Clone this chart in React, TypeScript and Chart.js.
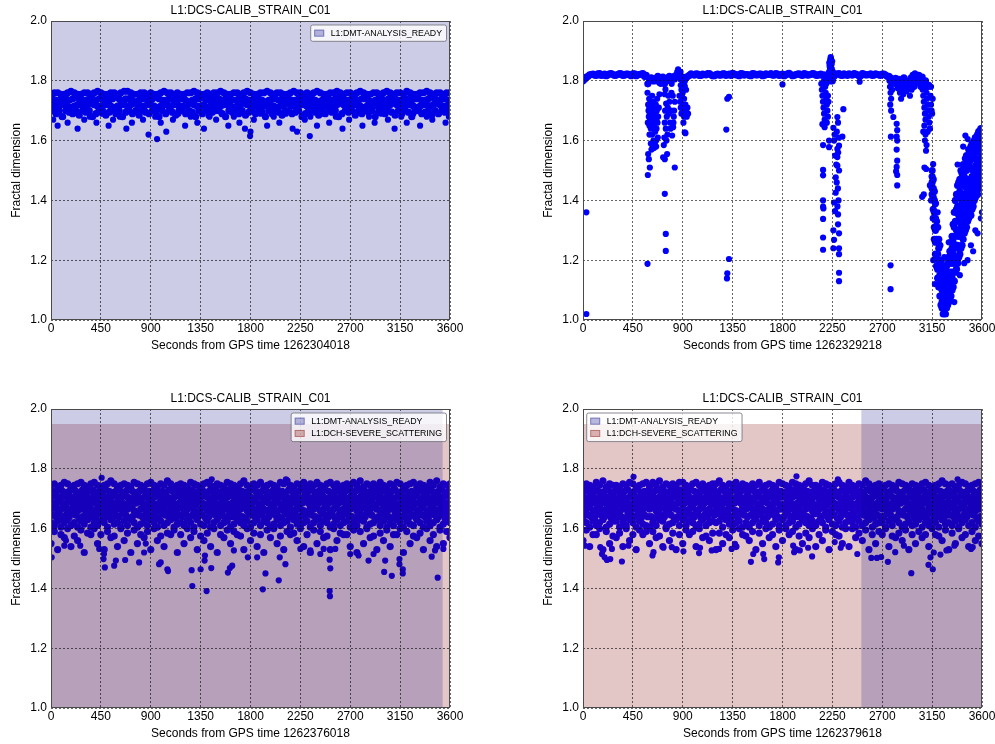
import React, { useEffect, useRef } from "react";
import { Chart, registerables } from "chart.js";

Chart.register(...registerables);

const FONT = "'Liberation Sans', Arial, Helvetica, sans-serif";
Chart.defaults.font.family = FONT;
Chart.defaults.color = "#000";

// ---------- axis ticks ----------
const X_TICKS = [0, 450, 900, 1350, 1800, 2250, 2700, 3150, 3600];
const Y_TICKS = [1.0, 1.2, 1.4, 1.6, 1.8, 2.0];
const CHANNEL = "L1:DCS-CALIB_STRAIN_C01";
const Y_LABEL = "Fractal dimension";
const GPS_STARTS = ["1262304018", "1262329218", "1262376018", "1262379618"];

// ---------- segment labels & spans (seconds) ----------
const DMT_LABEL = "L1:DMT-ANALYSIS_READY";
const DCH_LABEL = "L1:DCH-SEVERE_SCATTERING";
const TL_DMT_SPAN = [0, 3600];
const BL_DMT_SPAN = [0, 3535];
const BL_DCH_SPAN = [0, 3600];
const BR_DMT_SPAN = [2510, 3600];
const BR_DCH_SPAN = [0, 3600];
const DMT_TOP = 2.0;
const DCH_TOP = 1.95;

// ---------- panel 1 (top-left), rows sampled every 30 s ----------
const TL_R1 = [
  1.755,1.76,1.76,1.755,1.755,1.76,1.765,1.76,1.755,1.755,
  1.76,1.76,1.755,1.76,1.765,1.76,1.755,1.755,1.76,1.76,
  1.755,1.76,1.765,1.765,1.76,1.755,1.755,1.76,1.76,1.755,
  1.76,1.755,1.755,1.76,1.765,1.76,1.76,1.755,1.76,1.755,
  1.755,1.76,1.76,1.765,1.76,1.755,1.755,1.76,1.755,1.76,
  1.76,1.765,1.76,1.755,1.755,1.76,1.76,1.755,1.76,1.765,
  1.76,1.755,1.755,1.76,1.76,1.765,1.76,1.755,1.76,1.76,
  1.755,1.755,1.76,1.765,1.76,1.76,1.755,1.76,1.755,1.76,
  1.765,1.76,1.755,1.755,1.76,1.76,1.765,1.76,1.755,1.76,
  1.76,1.755,1.76,1.765,1.76,1.755,1.755,1.76,1.76,1.755,
  1.76,1.765,1.76,1.755,1.76,1.76,1.755,1.765,1.76,1.755,
  1.755,1.76,1.76,1.765,1.76,1.755,1.76,1.76,1.755,1.76,
  1.76];
const TL_R2 = [
  1.74,1.735,1.735,1.74,1.74,1.735,1.74,1.745,1.74,1.735,
  1.735,1.74,1.74,1.735,1.74,1.74,1.735,1.735,1.74,1.745,
  1.74,1.735,1.74,1.74,1.735,1.73,1.735,1.74,1.74,1.735,
  1.74,1.745,1.74,1.735,1.735,1.74,1.74,1.735,1.74,1.74,
  1.735,1.73,1.735,1.74,1.74,1.745,1.74,1.735,1.735,1.74,
  1.74,1.735,1.74,1.74,1.735,1.735,1.74,1.745,1.74,1.735,
  1.735,1.74,1.74,1.735,1.73,1.735,1.74,1.74,1.735,1.74,
  1.745,1.74,1.735,1.735,1.74,1.74,1.735,1.74,1.74,1.735,
  1.73,1.735,1.74,1.74,1.735,1.74,1.745,1.74,1.735,1.735,
  1.74,1.74,1.735,1.74,1.74,1.735,1.73,1.735,1.74,1.74,
  1.735,1.74,1.745,1.74,1.735,1.735,1.74,1.74,1.735,1.74,
  1.74,1.735,1.735,1.74,1.745,1.74,1.735,1.74,1.74,1.735,
  1.74];
const TL_R3 = [
  1.72,1.715,1.715,1.72,1.72,1.715,1.71,1.715,1.72,1.72,
  1.715,1.72,1.725,1.72,1.715,1.715,1.72,1.72,1.715,1.71,
  1.715,1.72,1.72,1.715,1.72,1.725,1.72,1.715,1.715,1.72,
  1.72,1.715,1.71,1.715,1.72,1.72,1.715,1.72,1.72,1.715,
  1.715,1.72,1.725,1.72,1.715,1.715,1.72,1.71,1.715,1.72,
  1.72,1.715,1.72,1.72,1.715,1.71,1.715,1.72,1.725,1.72,
  1.715,1.715,1.72,1.72,1.715,1.72,1.72,1.715,1.71,1.715,
  1.72,1.725,1.72,1.715,1.715,1.72,1.72,1.715,1.72,1.72,
  1.715,1.71,1.715,1.72,1.72,1.715,1.72,1.725,1.72,1.715,
  1.715,1.72,1.72,1.715,1.71,1.715,1.72,1.72,1.715,1.72,
  1.72,1.715,1.72,1.725,1.72,1.715,1.715,1.72,1.72,1.715,
  1.71,1.715,1.72,1.72,1.715,1.72,1.725,1.72,1.715,1.715,
  1.72];
const TL_R4 = [
  1.70,1.69,1.70,1.68,1.70,1.695,1.69,1.70,1.685,1.70,
  1.695,1.70,1.68,1.69,1.70,1.70,1.685,1.695,1.70,1.69,
  1.70,1.68,1.695,1.70,1.69,1.70,1.685,1.70,1.695,1.69,
  1.70,1.695,1.68,1.70,1.69,1.70,1.695,1.685,1.70,1.70,
  1.69,1.70,1.695,1.68,1.70,1.69,1.70,1.685,1.695,1.70,
  1.70,1.69,1.68,1.70,1.695,1.70,1.69,1.70,1.685,1.695,
  1.70,1.69,1.70,1.695,1.68,1.70,1.69,1.70,1.695,1.685,
  1.70,1.70,1.69,1.695,1.70,1.68,1.69,1.70,1.70,1.695,
  1.685,1.70,1.69,1.70,1.695,1.70,1.68,1.69,1.70,1.695,
  1.70,1.685,1.70,1.69,1.70,1.695,1.70,1.68,1.695,1.70,
  1.69,1.70,1.695,1.685,1.70,1.69,1.70,1.695,1.68,1.70,
  1.70,1.69,1.695,1.70,1.685,1.70,1.69,1.70,1.695,1.70,
  1.69];
const TL_LOW = [
  [20,1.67],[60,1.65],[95,1.68],[150,1.66],[200,1.69],[240,1.64],[300,1.67],[350,1.68],[410,1.66],[460,1.69],
  [520,1.65],[560,1.67],[620,1.68],[680,1.64],[730,1.66],[790,1.69],[830,1.67],[880,1.62],[940,1.68],[957,1.605],
  [990,1.66],[1040,1.63],[1100,1.67],[1150,1.69],[1210,1.65],[1260,1.68],[1320,1.66],[1380,1.64],[1430,1.68],[1490,1.67],
  [1540,1.69],[1600,1.65],[1650,1.68],[1700,1.66],[1750,1.64],[1796,1.615],[1800,1.63],[1830,1.67],[1890,1.69],[1950,1.65],
  [2010,1.68],[2060,1.66],[2120,1.69],[2180,1.64],[2220,1.63],[2290,1.67],[2335,1.615],[2340,1.68],[2400,1.65],[2450,1.69],
  [2510,1.66],[2570,1.68],[2630,1.64],[2690,1.67],[2750,1.69],[2810,1.65],[2870,1.68],[2920,1.66],[2980,1.69],[3040,1.67],
  [3100,1.64],[3160,1.68],[3210,1.66],[3270,1.69],[3330,1.65],[3390,1.68],[3440,1.67],[3500,1.69],[3560,1.66],[3590,1.68]];

// ---------- panel 2 (top-right) ----------
// baseline every 30 s from 0 s, and from 15 s
const TR_BASE = [
  1.800,1.812,1.820,1.822,1.818,1.824,1.820,1.817,1.823,1.821,
  1.819,1.824,1.818,1.822,1.820,1.823,1.817,1.821,1.824,1.818,
  1.805,1.800,1.808,1.795,1.812,1.803,1.815,1.808,1.818,1.825,
  1.812,1.810,1.818,1.821,1.823,1.818,1.822,1.820,1.824,1.817,
  1.821,1.819,1.823,1.818,1.822,1.825,1.820,1.817,1.823,1.821,
  1.818,1.824,1.820,1.822,1.817,1.823,1.821,1.819,1.824,1.818,
  1.822,1.820,1.825,1.817,1.821,1.823,1.818,1.822,1.820,1.824,
  1.819,1.821,1.818,1.815,1.810,1.800,1.822,1.824,1.818,1.821,
  1.823,1.819,1.822,1.817,1.824,1.820,1.821,1.818,1.823,1.820,
  1.822,1.819,1.815,1.800,1.790,1.805,1.785,1.800,1.778,1.812,
  1.815,1.818,1.812,1.800,1.785];
const TR_BASE2 = [
  1.805,1.815,
  1.821,1.819,1.823,1.818,1.822,1.820,1.824,1.818,1.821,1.823,1.819,1.822,1.817,1.823,1.820,1.822,
  1.815,1.790,1.810,1.800,1.815,1.800,1.790,1.810,1.800,1.815,1.830,1.805,1.800,1.815,
  1.823,1.819,1.822,1.818,1.821,1.824,1.820,1.817,1.822,1.819,
  1.823,1.821,1.818,1.822,1.820,1.824,1.819,1.821,1.817,1.823,
  1.820,1.822,1.818,1.821,1.824,1.819,1.822,1.820,1.817,1.823,
  1.821,1.818,1.822,1.820,1.824,1.819,1.821,1.823,1.818,1.822,
  1.820,
  1.810,1.800,1.815,
  1.822,1.819,1.823,1.818,1.821,1.824,1.820,1.817,1.822,1.820,1.823,1.819,1.821,1.818,1.822,1.815,
  1.810,1.795,1.805,1.790,1.810,1.795,1.800,1.815,1.810,1.800,1.790,1.780];
// late dip, every 10 s from 3150 to 3600 s (five layers)
const TR_V1 = [1.50,1.47,1.43,1.39,1.33,1.31,1.27,1.25,1.20,1.18,1.16,1.15,1.14,1.18,1.19,1.21,1.23,1.26,1.28,1.32,1.36,1.40,1.42,1.45,1.46,1.47,1.50,1.49,1.52,1.51,1.54,1.55,1.53,1.57,1.56,1.58,1.59,1.57,1.60,1.61,1.59,1.62,1.63,1.61,1.64,1.62];
const TR_V2 = [1.48,1.44,1.40,1.34,1.31,1.26,1.24,1.19,1.17,1.13,1.12,1.11,1.10,1.13,1.16,1.15,1.19,1.20,1.24,1.26,1.31,1.33,1.37,1.38,1.41,1.43,1.42,1.45,1.46,1.48,1.47,1.50,1.51,1.52,1.53,1.51,1.54,1.55,1.54,1.57,1.56,1.58,1.57,1.59,1.58,1.60];
const TR_V3 = [1.46,1.41,1.36,1.30,1.27,1.22,1.19,1.15,1.12,1.10,1.08,1.09,1.07,1.10,1.12,1.11,1.14,1.16,1.19,1.22,1.25,1.28,1.30,1.33,1.35,1.37,1.36,1.39,1.40,1.42,1.41,1.44,1.45,1.46,1.47,1.45,1.48,1.50,1.49,1.51,1.52,1.50,1.53,1.54,1.52,1.55];
const TR_V4 = [1.44,1.37,1.31,1.26,1.21,1.17,1.14,1.12,1.08,1.06,1.05,1.05,1.04,1.06,1.08,1.09,1.10,1.12,1.14,1.16,1.19,1.21,1.24,1.25,1.28,1.29,1.31,1.32,1.34,1.35,1.37,1.38,1.39,1.41,1.42,1.40,1.43,1.44,1.46,1.45,1.47,1.46,1.49,1.48,1.50,1.51];
const TR_V5 = [1.42,1.34,1.27,1.22,1.18,1.14,1.11,1.08,1.05,1.04,1.02,1.03,1.02,1.04,1.05,1.06,1.07,1.08,1.10,1.11,1.13,1.16,1.17,1.19,1.21,1.22,1.24,1.25,1.27,1.29,1.30,1.31,1.33,1.34,1.36,1.35,1.37,1.38,1.40,1.41,1.43,1.42,1.44,1.45,1.46,1.47];
const TR_PTS = [
  [30,1.36],[30,1.02],
  [582,1.76],[588,1.72],[591,1.70],[594,1.68],[585,1.66],[597,1.74],[600,1.71],[603,1.69],[606,1.67],[600,1.65],
  [609,1.73],[612,1.70],[615,1.68],[618,1.66],[612,1.64],[621,1.72],[624,1.75],[627,1.69],[630,1.67],[624,1.62],
  [633,1.71],[636,1.73],[639,1.65],[642,1.68],[636,1.60],[645,1.70],[648,1.66],[651,1.63],[654,1.69],[657,1.72],
  [660,1.67],[663,1.64],[666,1.70],[669,1.74],[672,1.66],[675,1.61],[678,1.68],[684,1.71],[612,1.59],[630,1.58],
  [648,1.59],[660,1.60],[600,1.62],[588,1.555],[594,1.538],[603,1.51],[585,1.485],[582,1.188],[618,1.57],[640,1.575],
  [660,1.58],[690,1.755],
  [560,1.815],[620,1.81],[680,1.812],[700,1.79],[740,1.795],[770,1.80],[800,1.79],[830,1.805],[858,1.838],[880,1.83],
  [900,1.79],[915,1.785],
  [744,1.771],[738,1.755],[750,1.724],[741,1.70],[756,1.68],[738,1.66],[747,1.64],[729,1.585],[723,1.544],[738,1.538],
  [759,1.555],[753,1.60],[765,1.71],[774,1.69],[780,1.73],[786,1.66],[795,1.70],[804,1.617],[813,1.645],[828,1.51],
  [738,1.422],[747,1.288],[747,1.231],[822,1.70],[828,1.73],[819,1.68],[810,1.75],[798,1.76],[790,1.64],[816,1.66],
  [771,1.75],[762,1.62],[734,1.61],
  [870,1.75],[876,1.73],[882,1.71],[888,1.69],[894,1.746],[900,1.72],[906,1.70],[912,1.68],[918,1.628],[924,1.72],
  [930,1.70],[936,1.68],[924,1.625],[930,1.77],[918,1.78],[900,1.76],[942,1.71],[948,1.69],[912,1.74],[888,1.77],
  [882,1.785],[906,1.66],
  [1302,1.74],[1317,1.746],[1293,1.637],[1317,1.204],[1302,1.156],[1299,1.139],[1800,1.788],
  [2150,1.79],[2155,1.77],[2160,1.75],[2165,1.73],[2170,1.71],[2175,1.69],[2180,1.67],[2185,1.78],[2190,1.76],[2195,1.74],
  [2200,1.72],[2205,1.70],[2210,1.68],[2160,1.655],[2180,1.645],[2200,1.66],[2175,1.80],[2195,1.79],[2210,1.75],[2215,1.73],
  [2166,1.585],[2166,1.502],[2166,1.484],[2166,1.40],[2166,1.379],[2169,1.373],[2166,1.338],[2166,1.276],[2166,1.235],
  [2220,1.83],[2225,1.85],[2230,1.87],[2235,1.879],[2240,1.86],[2245,1.84],[2250,1.82],[2228,1.845],[2238,1.875],[2243,1.855],
  [2232,1.84],[2248,1.865],[2255,1.83],[2222,1.86],
  [2259,1.643],[2295,1.679],[2301,1.66],[2349,1.705],[2220,1.60],[2220,1.578],[2265,1.60],[2295,1.572],[2310,1.583],[2340,1.613],
  [2295,1.545],[2295,1.516],[2310,1.50],[2280,1.477],[2289,1.46],[2280,1.426],[2265,1.393],[2274,1.364],[2301,1.353],[2259,1.30],
  [2265,1.268],[2301,1.32],[2310,1.29],[2310,1.24],[2310,1.22],[2310,1.158],[2310,1.13],[2259,1.24],[2270,1.62],[2290,1.63],
  [2305,1.61],[2300,1.44],[2305,1.40],[2296,1.38],[2302,1.56],[2275,1.55],[2285,1.52],
  [2496,1.797],
  [2765,1.80],[2770,1.78],[2775,1.76],[2780,1.74],[2772,1.72],[2785,1.79],[2790,1.77],[2780,1.70],[2800,1.679],[2830,1.656],
  [2835,1.635],[2830,1.613],[2835,1.60],[2830,1.57],[2835,1.533],[2830,1.512],[2835,1.485],[2835,1.45],[2825,1.497],[2775,1.183],
  [2775,1.103],[2778,1.613],
  [2820,1.81],[2840,1.775],[2850,1.79],[2860,1.76],[2870,1.80],[2880,1.77],[2890,1.755],[2900,1.79],[2910,1.78],[2920,1.765],
  [2930,1.80],[2945,1.79],[2955,1.81],[2965,1.77],[2975,1.82],[2985,1.80],[2995,1.825],[3005,1.79],[3015,1.82],[3025,1.80],
  [3035,1.81],[3045,1.78],[2950,1.75],[2900,1.765],[2870,1.74],[3010,1.805],[2990,1.78],[2960,1.795],
  [3060,1.79],[3065,1.77],[3070,1.75],[3075,1.73],[3080,1.71],[3085,1.69],[3090,1.67],[3095,1.78],[3100,1.76],[3105,1.74],
  [3110,1.72],[3115,1.70],[3120,1.68],[3125,1.66],[3130,1.64],[3135,1.75],[3140,1.72],[3145,1.70],[3080,1.65],[3090,1.62],
  [3085,1.60],[3100,1.585],[3095,1.566],[3110,1.63],[3070,1.63],[3081,1.51],[3096,1.505],[3060,1.412],[3075,1.42],[3159,1.521],
  [3150,1.69],[3155,1.74],[3140,1.78],
  [3130,1.45],[3140,1.40],[3160,1.20],[3175,1.12],[3200,1.36],[3260,1.21],[3300,1.26],[3350,1.06],[3380,1.52],[3400,1.15],
  [3430,1.58],[3450,1.617],[3471,1.605],[3500,1.25],[3540,1.30],[3579,1.634],[3590,1.34],[3560,1.29],[3520,1.23],[3470,1.20],
  [3440,1.19],[3600,1.36],[3600,1.44]];

// ---------- panel 3 (bottom-left), rows every 30 s, R8/R9 every 60 s ----------
const BL_R1 = [
  1.745,1.75,1.74,1.745,1.755,1.75,1.74,1.745,1.75,1.755,
  1.745,1.74,1.75,1.755,1.745,1.74,1.745,1.75,1.76,1.75,
  1.74,1.745,1.75,1.745,1.74,1.755,1.75,1.745,1.74,1.75,
  1.755,1.745,1.74,1.75,1.745,1.76,1.75,1.74,1.745,1.75,
  1.745,1.74,1.755,1.75,1.745,1.74,1.75,1.755,1.745,1.74,
  1.75,1.745,1.74,1.755,1.75,1.745,1.74,1.75,1.76,1.745,
  1.74,1.75,1.745,1.755,1.74,1.745,1.75,1.745,1.74,1.755,
  1.75,1.76,1.745,1.74,1.75,1.745,1.755,1.74,1.75,1.745,
  1.755,1.745,1.74,1.75,1.755,1.745,1.75,1.74,1.745,1.75,
  1.74,1.755,1.745,1.76,1.74,1.75,1.745,1.75,1.74,1.755,
  1.745,1.74,1.75,1.745,1.755,1.75,1.74,1.745,1.75,1.755,
  1.74,1.75,1.745,1.74,1.755,1.745,1.76,1.74,1.75,1.745,
  1.75];
const BL_R2 = [
  1.725,1.72,1.73,1.725,1.72,1.725,1.73,1.725,1.72,1.73,
  1.72,1.725,1.73,1.72,1.725,1.72,1.73,1.725,1.72,1.725,
  1.73,1.72,1.725,1.73,1.725,1.72,1.725,1.73,1.72,1.725,
  1.725,1.73,1.72,1.725,1.72,1.73,1.725,1.72,1.73,1.725,
  1.72,1.725,1.73,1.72,1.725,1.73,1.72,1.725,1.725,1.73,
  1.72,1.725,1.72,1.73,1.725,1.72,1.73,1.725,1.72,1.725,
  1.73,1.725,1.72,1.725,1.73,1.72,1.725,1.73,1.72,1.725,
  1.72,1.73,1.725,1.72,1.725,1.73,1.72,1.725,1.73,1.72,
  1.725,1.72,1.73,1.725,1.72,1.73,1.725,1.72,1.725,1.73,
  1.72,1.725,1.73,1.72,1.725,1.72,1.73,1.725,1.72,1.73,
  1.725,1.72,1.725,1.73,1.72,1.725,1.73,1.72,1.725,1.72,
  1.73,1.725,1.72,1.73,1.725,1.72,1.725,1.73,1.72,1.725,
  1.73];
const BL_R3 = [
  1.705,1.71,1.70,1.705,1.71,1.70,1.705,1.705,1.71,1.70,
  1.71,1.705,1.70,1.71,1.705,1.71,1.70,1.705,1.70,1.71,
  1.705,1.70,1.71,1.705,1.70,1.705,1.71,1.70,1.705,1.71,
  1.70,1.705,1.71,1.70,1.71,1.705,1.70,1.705,1.71,1.705,
  1.71,1.70,1.705,1.71,1.70,1.705,1.71,1.705,1.70,1.71,
  1.705,1.71,1.70,1.705,1.71,1.705,1.70,1.71,1.705,1.70,
  1.705,1.70,1.71,1.705,1.70,1.71,1.705,1.71,1.70,1.705,
  1.71,1.705,1.70,1.71,1.705,1.70,1.705,1.71,1.70,1.705,
  1.70,1.71,1.705,1.70,1.705,1.71,1.70,1.705,1.71,1.70,
  1.705,1.71,1.70,1.705,1.71,1.705,1.70,1.71,1.705,1.71,
  1.70,1.705,1.71,1.70,1.705,1.71,1.705,1.70,1.71,1.705,
  1.71,1.70,1.705,1.71,1.70,1.705,1.71,1.705,1.70,1.71,
  1.705];
const BL_R4 = [
  1.685,1.68,1.69,1.685,1.68,1.69,1.685,1.69,1.68,1.685,
  1.69,1.68,1.685,1.69,1.685,1.68,1.69,1.685,1.68,1.685,
  1.69,1.685,1.68,1.69,1.68,1.685,1.69,1.685,1.68,1.69,
  1.685,1.68,1.685,1.69,1.685,1.68,1.69,1.68,1.685,1.69,
  1.68,1.685,1.69,1.68,1.69,1.685,1.68,1.685,1.69,1.685,
  1.68,1.69,1.685,1.68,1.685,1.69,1.68,1.69,1.685,1.68,
  1.685,1.69,1.68,1.685,1.69,1.685,1.68,1.69,1.685,1.68,
  1.69,1.68,1.685,1.69,1.68,1.685,1.69,1.685,1.68,1.69,
  1.685,1.69,1.68,1.685,1.69,1.68,1.685,1.69,1.685,1.68,
  1.69,1.685,1.68,1.69,1.685,1.68,1.69,1.68,1.685,1.69,
  1.68,1.685,1.69,1.685,1.68,1.69,1.685,1.68,1.69,1.685,
  1.685,1.68,1.69,1.685,1.68,1.69,1.685,1.69,1.68,1.685,
  1.69];
const BL_R5 = [
  1.665,1.67,1.66,1.665,1.67,1.655,1.665,1.67,1.66,1.665,
  1.67,1.66,1.665,1.655,1.67,1.665,1.66,1.67,1.665,1.66,
  1.665,1.67,1.66,1.665,1.67,1.66,1.655,1.665,1.67,1.66,
  1.67,1.665,1.66,1.67,1.665,1.655,1.67,1.66,1.665,1.67,
  1.66,1.665,1.67,1.66,1.655,1.665,1.67,1.66,1.67,1.665,
  1.665,1.66,1.67,1.665,1.66,1.67,1.655,1.665,1.67,1.66,
  1.67,1.665,1.66,1.67,1.665,1.66,1.665,1.67,1.655,1.665,
  1.66,1.67,1.665,1.66,1.67,1.665,1.66,1.655,1.67,1.665,
  1.67,1.66,1.665,1.67,1.66,1.665,1.67,1.66,1.665,1.655,
  1.665,1.67,1.66,1.665,1.67,1.66,1.665,1.67,1.665,1.66,
  1.67,1.655,1.665,1.67,1.66,1.665,1.67,1.66,1.665,1.67,
  1.66,1.665,1.67,1.655,1.665,1.67,1.66,1.665,1.67,1.66,
  1.665];
const BL_R6 = [
  1.645,1.64,1.65,1.635,1.645,1.64,1.65,1.645,1.635,1.64,
  1.65,1.645,1.64,1.635,1.65,1.645,1.64,1.65,1.635,1.645,
  1.64,1.65,1.645,1.635,1.64,1.65,1.645,1.64,1.65,1.635,
  1.645,1.64,1.635,1.65,1.645,1.64,1.65,1.635,1.645,1.64,
  1.65,1.635,1.645,1.64,1.65,1.645,1.635,1.64,1.65,1.645,
  1.64,1.65,1.635,1.645,1.64,1.65,1.645,1.64,1.635,1.65,
  1.645,1.64,1.65,1.645,1.635,1.64,1.65,1.645,1.64,1.635,
  1.65,1.645,1.64,1.65,1.635,1.645,1.64,1.65,1.645,1.64,
  1.635,1.65,1.645,1.64,1.65,1.635,1.645,1.64,1.65,1.645,
  1.64,1.635,1.65,1.645,1.64,1.65,1.645,1.635,1.64,1.65,
  1.645,1.64,1.635,1.65,1.645,1.64,1.65,1.635,1.645,1.64,
  1.65,1.645,1.64,1.635,1.65,1.645,1.64,1.65,1.635,1.645,
  1.64];
const BL_R7 = [
  1.62,1.61,1.625,1.605,1.62,1.63,1.61,1.62,1.605,1.625,
  1.615,1.63,1.605,1.62,1.61,1.625,1.62,1.605,1.63,1.615,
  1.62,1.605,1.625,1.61,1.63,1.62,1.605,1.615,1.625,1.61,
  1.63,1.62,1.605,1.625,1.61,1.62,1.63,1.605,1.615,1.62,
  1.61,1.625,1.62,1.605,1.63,1.615,1.61,1.625,1.605,1.62,
  1.63,1.61,1.62,1.625,1.605,1.615,1.63,1.62,1.61,1.625,
  1.605,1.62,1.63,1.61,1.625,1.62,1.605,1.615,1.63,1.61,
  1.62,1.625,1.605,1.63,1.615,1.61,1.62,1.625,1.605,1.62,
  1.63,1.61,1.625,1.62,1.605,1.615,1.63,1.61,1.62,1.625,
  1.605,1.62,1.61,1.63,1.625,1.605,1.615,1.62,1.63,1.61,
  1.625,1.605,1.62,1.61,1.63,1.62,1.605,1.625,1.615,1.61,
  1.63,1.62,1.605,1.625,1.61,1.62,1.63,1.605,1.615,1.625,
  1.62];
const BL_R8 = [
  1.59,1.58,1.60,1.575,1.595,1.585,1.60,1.58,1.59,1.575,
  1.60,1.585,1.595,1.58,1.59,1.60,1.575,1.585,1.595,1.58,
  1.60,1.59,1.575,1.585,1.60,1.58,1.595,1.59,1.575,1.60,
  1.585,1.58,1.595,1.60,1.575,1.59,1.585,1.60,1.58,1.595,
  1.59,1.575,1.60,1.585,1.58,1.595,1.59,1.60,1.575,1.585,
  1.595,1.58,1.60,1.59,1.575,1.585,1.60,1.58,1.595,1.59,
  1.585];
const BL_R9 = [
  1.55,1.53,1.57,1.54,1.56,1.52,1.58,1.55,1.53,1.57,
  1.54,1.56,1.52,1.55,1.57,1.53,1.56,1.54,1.58,1.52,
  1.55,1.57,1.53,1.56,1.54,1.52,1.57,1.55,1.58,1.53,
  1.56,1.54,1.52,1.57,1.55,1.53,1.58,1.56,1.54,1.52,
  1.55,1.57,1.53,1.56,1.58,1.54,1.52,1.55,1.57,1.53,
  1.56,1.54,1.58,1.52,1.55,1.57,1.53,1.56,1.54,1.55,
  1.57];
const BL_LOW = [
  [6,1.504],[135,1.56],[120,1.543],[264,1.543],[435,1.532],[474,1.498],[486,1.47],[478,1.515],[570,1.476],[585,1.493],
  [669,1.495],[795,1.487],[840,1.52],[855,1.55],[975,1.481],[990,1.487],[1050,1.464],[1056,1.458],[1269,1.461],[1275,1.408],
  [1350,1.464],[1404,1.391],[1386,1.493],[1389,1.51],[1446,1.468],[1596,1.453],[1614,1.468],[1635,1.476],[1650,1.527],[1776,1.504],
  [1860,1.504],[1911,1.397],[1935,1.45],[2055,1.427],[2064,1.504],[2115,1.481],[2250,1.532],[2340,1.527],[2430,1.515],[2460,1.532],
  [2514,1.496],[2520,1.467],[2514,1.391],[2517,1.374],[2565,1.532],[2700,1.515],[2775,1.51],[2865,1.493],[2910,1.515],[3006,1.455],
  [3075,1.442],[3015,1.493],[3144,1.481],[3174,1.464],[3174,1.45],[3144,1.498],[3435,1.506],[3465,1.527],[3489,1.436],[3540,1.532],
  [457,1.77],[1450,1.765],[2120,1.765]];

// ---------- panel 4 (bottom-right) ----------
const BR_R1 = [
  1.74,1.75,1.745,1.74,1.755,1.745,1.76,1.74,1.75,1.745,
  1.745,1.74,1.75,1.745,1.755,1.75,1.74,1.745,1.75,1.755,
  1.74,1.755,1.745,1.76,1.74,1.75,1.745,1.75,1.74,1.755,
  1.755,1.745,1.74,1.75,1.755,1.745,1.75,1.74,1.745,1.75,
  1.75,1.76,1.745,1.74,1.75,1.745,1.755,1.74,1.75,1.745,
  1.74,1.75,1.745,1.755,1.74,1.745,1.75,1.745,1.74,1.755,
  1.75,1.745,1.74,1.755,1.75,1.745,1.74,1.75,1.76,1.745,
  1.745,1.74,1.755,1.75,1.745,1.74,1.75,1.755,1.745,1.74,
  1.755,1.745,1.74,1.75,1.745,1.76,1.75,1.74,1.745,1.75,
  1.74,1.745,1.75,1.745,1.74,1.755,1.75,1.745,1.74,1.75,
  1.745,1.74,1.75,1.755,1.745,1.74,1.745,1.75,1.76,1.75,
  1.745,1.75,1.74,1.745,1.755,1.75,1.74,1.745,1.75,1.755,
  1.745];
const BR_R2 = [
  1.73,1.725,1.72,1.73,1.725,1.72,1.725,1.73,1.72,1.725,
  1.725,1.72,1.725,1.73,1.72,1.725,1.73,1.72,1.725,1.72,
  1.72,1.725,1.73,1.72,1.725,1.72,1.73,1.725,1.72,1.73,
  1.725,1.72,1.73,1.725,1.72,1.73,1.725,1.72,1.725,1.73,
  1.72,1.73,1.725,1.72,1.725,1.73,1.72,1.725,1.73,1.72,
  1.73,1.725,1.72,1.725,1.73,1.72,1.725,1.73,1.72,1.725,
  1.72,1.725,1.72,1.73,1.725,1.72,1.73,1.725,1.72,1.725,
  1.72,1.725,1.73,1.72,1.725,1.73,1.72,1.725,1.725,1.73,
  1.725,1.73,1.72,1.725,1.72,1.73,1.725,1.72,1.73,1.725,
  1.73,1.72,1.725,1.73,1.725,1.72,1.725,1.73,1.72,1.725,
  1.72,1.725,1.73,1.72,1.725,1.72,1.73,1.725,1.72,1.725,
  1.725,1.72,1.73,1.725,1.72,1.725,1.73,1.725,1.72,1.73,
  1.725];
const BR_R3 = [
  1.71,1.70,1.705,1.71,1.70,1.705,1.71,1.705,1.70,1.71,
  1.70,1.705,1.71,1.70,1.705,1.71,1.705,1.70,1.71,1.705,
  1.705,1.71,1.70,1.705,1.71,1.705,1.70,1.71,1.705,1.71,
  1.70,1.71,1.705,1.70,1.705,1.71,1.70,1.705,1.71,1.70,
  1.71,1.705,1.70,1.71,1.705,1.70,1.705,1.71,1.70,1.705,
  1.705,1.70,1.71,1.705,1.70,1.71,1.705,1.71,1.70,1.705,
  1.705,1.71,1.70,1.705,1.71,1.705,1.70,1.71,1.705,1.70,
  1.71,1.70,1.705,1.71,1.70,1.705,1.71,1.705,1.70,1.71,
  1.70,1.705,1.71,1.70,1.71,1.705,1.70,1.705,1.71,1.705,
  1.705,1.70,1.71,1.705,1.70,1.705,1.71,1.70,1.705,1.71,
  1.71,1.705,1.70,1.71,1.705,1.71,1.70,1.705,1.70,1.71,
  1.705,1.71,1.70,1.705,1.71,1.70,1.705,1.705,1.71,1.70,
  1.71];
const BR_R4 = [
  1.685,1.68,1.69,1.685,1.68,1.69,1.685,1.69,1.68,1.685,
  1.68,1.685,1.69,1.685,1.68,1.69,1.685,1.68,1.69,1.685,
  1.69,1.685,1.68,1.69,1.685,1.68,1.69,1.68,1.685,1.69,
  1.685,1.69,1.68,1.685,1.69,1.68,1.685,1.69,1.685,1.68,
  1.69,1.68,1.685,1.69,1.68,1.685,1.69,1.685,1.68,1.69,
  1.685,1.69,1.68,1.685,1.69,1.685,1.68,1.69,1.685,1.68,
  1.68,1.69,1.685,1.68,1.685,1.69,1.68,1.69,1.685,1.68,
  1.68,1.685,1.69,1.68,1.69,1.685,1.68,1.685,1.69,1.685,
  1.685,1.68,1.685,1.69,1.685,1.68,1.69,1.68,1.685,1.69,
  1.69,1.685,1.68,1.69,1.68,1.685,1.69,1.685,1.68,1.69,
  1.69,1.68,1.685,1.69,1.685,1.68,1.69,1.685,1.68,1.685,
  1.685,1.68,1.69,1.685,1.68,1.69,1.685,1.69,1.68,1.685,
  1.68];
const BR_R5 = [
  1.66,1.665,1.67,1.655,1.665,1.67,1.66,1.665,1.67,1.66,
  1.67,1.655,1.665,1.67,1.66,1.665,1.67,1.66,1.665,1.67,
  1.665,1.67,1.66,1.665,1.67,1.66,1.665,1.67,1.665,1.66,
  1.67,1.66,1.665,1.67,1.66,1.665,1.67,1.66,1.665,1.655,
  1.66,1.67,1.665,1.66,1.67,1.665,1.66,1.655,1.67,1.665,
  1.67,1.665,1.66,1.67,1.665,1.66,1.665,1.67,1.655,1.665,
  1.665,1.66,1.67,1.665,1.66,1.67,1.655,1.665,1.67,1.66,
  1.66,1.665,1.67,1.66,1.655,1.665,1.67,1.66,1.67,1.665,
  1.67,1.665,1.66,1.67,1.665,1.655,1.67,1.66,1.665,1.67,
  1.665,1.67,1.66,1.665,1.67,1.66,1.655,1.665,1.67,1.66,
  1.67,1.66,1.665,1.655,1.67,1.665,1.66,1.67,1.665,1.66,
  1.665,1.67,1.66,1.665,1.67,1.655,1.665,1.67,1.66,1.665,
  1.67];
const BR_R6 = [
  1.65,1.645,1.64,1.635,1.65,1.645,1.64,1.65,1.635,1.645,
  1.645,1.64,1.635,1.65,1.645,1.64,1.65,1.635,1.645,1.64,
  1.64,1.635,1.65,1.645,1.64,1.65,1.645,1.635,1.64,1.65,
  1.635,1.65,1.645,1.64,1.65,1.635,1.645,1.64,1.65,1.645,
  1.65,1.645,1.64,1.65,1.635,1.645,1.64,1.65,1.645,1.64,
  1.645,1.64,1.65,1.645,1.635,1.64,1.65,1.645,1.64,1.635,
  1.64,1.65,1.635,1.645,1.64,1.65,1.645,1.64,1.635,1.65,
  1.65,1.635,1.645,1.64,1.65,1.645,1.635,1.64,1.65,1.645,
  1.645,1.64,1.635,1.65,1.645,1.64,1.65,1.635,1.645,1.64,
  1.64,1.65,1.645,1.635,1.64,1.65,1.645,1.64,1.65,1.635,
  1.65,1.645,1.64,1.635,1.65,1.645,1.64,1.65,1.635,1.645,
  1.645,1.64,1.65,1.635,1.645,1.64,1.65,1.645,1.635,1.64,
  1.645];
const BR_R7 = [
  1.63,1.62,1.605,1.625,1.61,1.62,1.63,1.605,1.615,1.625,
  1.625,1.605,1.62,1.61,1.63,1.62,1.605,1.625,1.615,1.61,
  1.605,1.62,1.61,1.63,1.625,1.605,1.615,1.62,1.63,1.61,
  1.63,1.61,1.625,1.62,1.605,1.615,1.63,1.61,1.62,1.625,
  1.62,1.625,1.605,1.63,1.615,1.61,1.62,1.625,1.605,1.62,
  1.605,1.62,1.63,1.61,1.625,1.62,1.605,1.615,1.63,1.61,
  1.63,1.61,1.62,1.625,1.605,1.615,1.63,1.62,1.61,1.625,
  1.61,1.625,1.62,1.605,1.63,1.615,1.61,1.625,1.605,1.62,
  1.63,1.62,1.605,1.625,1.61,1.62,1.63,1.605,1.615,1.62,
  1.62,1.605,1.625,1.61,1.63,1.62,1.605,1.615,1.625,1.61,
  1.615,1.63,1.605,1.62,1.61,1.625,1.62,1.605,1.63,1.615,
  1.62,1.61,1.625,1.605,1.62,1.63,1.61,1.62,1.605,1.625,
  1.615];
const BR_R8 = [
  1.595,1.58,1.60,1.59,1.575,1.585,1.60,1.58,1.595,1.59,
  1.59,1.575,1.60,1.585,1.58,1.595,1.59,1.60,1.575,1.585,
  1.585,1.58,1.595,1.60,1.575,1.59,1.585,1.60,1.58,1.595,
  1.60,1.59,1.575,1.585,1.60,1.58,1.595,1.59,1.575,1.60,
  1.60,1.585,1.595,1.58,1.59,1.60,1.575,1.585,1.595,1.58,
  1.59,1.58,1.60,1.575,1.595,1.585,1.60,1.58,1.59,1.575,
  1.59];
const BR_R9 = [
  1.56,1.54,1.58,1.53,1.55,1.57,1.54,1.56,1.53,1.58,
  1.55,1.57,1.54,1.56,1.53,1.55,1.58,1.54,1.57,1.56,
  1.53,1.55,1.57,1.54,1.58,1.56,1.53,1.55,1.57,1.54,
  1.56,1.58,1.53,1.55,1.57,1.54,1.56,1.53,1.58,1.55,
  1.54,1.57,1.56,1.53,1.55,1.58,1.54,1.57,1.56,1.53,
  1.55,1.57,1.54,1.58,1.56,1.53,1.55,1.57,1.54,1.56,
  1.55];
const BR_LOW = [
  [15,1.543],[156,1.538],[171,1.515],[195,1.504],[216,1.495],[246,1.498],[261,1.532],[351,1.49],[411,1.543],[636,1.521],
  [627,1.51],[726,1.536],[801,1.538],[906,1.524],[1047,1.518],[1056,1.536],[1161,1.527],[1227,1.532],[1341,1.532],[1371,1.549],
  [1515,1.489],[1536,1.515],[1626,1.515],[1635,1.498],[1761,1.487],[1767,1.504],[1896,1.543],[1905,1.521],[1956,1.527],[2031,1.536],
  [2067,1.507],[2271,1.555],[2325,1.536],[2475,1.515],[2601,1.502],[2652,1.502],[2690,1.505],[2751,1.489],[2817,1.521],[2895,1.543],
  [2962,1.451],[3117,1.479],[3135,1.504],[3156,1.464],[3165,1.52],[3225,1.513],[3279,1.527],[3351,1.543],[3501,1.532],[3516,1.538],
  [456,1.773],[1926,1.775],[2300,1.765],[3380,1.765]];

// ---------- styles ----------
const POINT_COLOR = "#0000ff";
const ROW_RADIUS = 3.6;
const PAIR_RADIUS = 3.1;
const DMT_FILL = "rgba(0,0,128,0.2)";
const DMT_PATCH = "rgba(0,0,128,0.28)";
const DMT_EDGE = "rgba(0,0,128,0.35)";
const DCH_FILL = "rgba(128,0,0,0.22)";
const DCH_PATCH = "rgba(128,0,0,0.28)";
const DCH_EDGE = "rgba(128,0,0,0.35)";
const GRID_COLOR = "rgba(0,0,0,0.6)";
const FRAME_COLOR = "#4a4a4a";
const CANVAS_W = 470;
const CANVAS_H = 360;

type Row = { values: number[]; start: number; step: number };
type Region = { label: string; span: number[]; top: number; fill: string; patch: string; edge: string };
type Panel = { left: number; top: number; gps: string; rows: Row[]; pairs: number[][][]; regions: Region[]; legendSide: string };

const dmt = (span: number[]): Region => ({ label: DMT_LABEL, span, top: DMT_TOP, fill: DMT_FILL, patch: DMT_PATCH, edge: DMT_EDGE });
const dch = (span: number[]): Region => ({ label: DCH_LABEL, span, top: DCH_TOP, fill: DCH_FILL, patch: DCH_PATCH, edge: DCH_EDGE });
const row30 = (values: number[]): Row => ({ values, start: 0, step: 30 });
const row30b = (values: number[]): Row => ({ values, start: 15, step: 30 });
const row60 = (values: number[]): Row => ({ values, start: 0, step: 60 });
const row60b = (values: number[]): Row => ({ values, start: 30, step: 60 });

const PANELS: Panel[] = [
  {
    left: 0, top: 0, gps: GPS_STARTS[0],
    rows: [row30(TL_R1), row30b(TL_R2), row30(TL_R3), row30b(TL_R4)],
    pairs: [TL_LOW], regions: [dmt(TL_DMT_SPAN)], legendSide: "right",
  },
  {
    left: 532, top: 0, gps: GPS_STARTS[1],
    rows: [
      row30(TR_BASE),
      row30b(TR_BASE2),
      { values: TR_V1, start: 3150, step: 10 }, { values: TR_V2, start: 3150, step: 10 },
      { values: TR_V3, start: 3150, step: 10 }, { values: TR_V4, start: 3150, step: 10 },
      { values: TR_V5, start: 3150, step: 10 },
    ],
    pairs: [TR_PTS], regions: [], legendSide: "none",
  },
  {
    left: 0, top: 388, gps: GPS_STARTS[2],
    rows: [row30(BL_R1), row30b(BL_R2), row30(BL_R3), row30b(BL_R4), row30(BL_R5), row30b(BL_R6), row30(BL_R7), row60b(BL_R8), row60(BL_R9)],
    pairs: [BL_LOW], regions: [dmt(BL_DMT_SPAN), dch(BL_DCH_SPAN)], legendSide: "right",
  },
  {
    left: 532, top: 388, gps: GPS_STARTS[3],
    rows: [row30(BR_R1), row30b(BR_R2), row30(BR_R3), row30b(BR_R4), row30(BR_R5), row30b(BR_R6), row30(BR_R7), row60b(BR_R8), row60(BR_R9)],
    pairs: [BR_LOW], regions: [dmt(BR_DMT_SPAN), dch(BR_DCH_SPAN)], legendSide: "left",
  },
];

const decorPlugin = {
  id: "panelDecor",
  afterDraw(chart: any, _args: any, opts: any) {
    const { ctx, chartArea: a } = chart;
    ctx.save();
    ctx.setLineDash([]);
    ctx.strokeStyle = FRAME_COLOR;
    ctx.lineWidth = 1;
    ctx.strokeRect(Math.round(a.left) + 0.5, Math.round(a.top) + 0.5, Math.round(a.right - a.left) - 1, Math.round(a.bottom - a.top) - 1);

    const items: Region[] = opts.items || [];
    if (items.length && opts.side !== "none") {
      ctx.font = `8.8px ${FONT}`;
      const textW = Math.max(...items.map((it) => ctx.measureText(it.label).width));
      const rowH = 12.3, padY = 2, padL = 3.5, patchW = 10, patchH = 7, gap = 6.5, padR = 4.5;
      const w = padL + patchW + gap + textW + padR;
      const h = padY * 2 + rowH * items.length;
      const x = opts.side === "right" ? a.right - 3.5 - w : a.left + 3.7;
      const y = a.top + 4;
      const r = 2;
      ctx.beginPath();
      ctx.moveTo(x + r, y);
      ctx.lineTo(x + w - r, y);
      ctx.quadraticCurveTo(x + w, y, x + w, y + r);
      ctx.lineTo(x + w, y + h - r);
      ctx.quadraticCurveTo(x + w, y + h, x + w - r, y + h);
      ctx.lineTo(x + r, y + h);
      ctx.quadraticCurveTo(x, y + h, x, y + h - r);
      ctx.lineTo(x, y + r);
      ctx.quadraticCurveTo(x, y, x + r, y);
      ctx.closePath();
      ctx.fillStyle = "rgba(255,255,255,0.8)";
      ctx.fill();
      ctx.strokeStyle = "rgba(110,110,120,0.8)";
      ctx.lineWidth = 1;
      ctx.stroke();
      items.forEach((it, k) => {
        const cy = y + padY + rowH * (k + 0.5);
        ctx.fillStyle = it.patch;
        ctx.fillRect(x + padL, cy - patchH / 2, patchW, patchH);
        ctx.strokeStyle = it.edge;
        ctx.strokeRect(x + padL + 0.5, cy - patchH / 2 + 0.5, patchW - 1, patchH - 1);
        ctx.fillStyle = "#000";
        ctx.textBaseline = "middle";
        ctx.textAlign = "left";
        ctx.fillText(it.label, x + padL + patchW + gap, cy);
      });
    }
    ctx.restore();
  },
};

function PanelChart({ panel }: { panel: Panel }) {
  const ref = useRef<HTMLCanvasElement>(null);
  useEffect(() => {
    if (!ref.current) return;
    const datasets: any[] = [];
    panel.regions.forEach((rg) => {
      datasets.push({
        type: "line",
        label: rg.label,
        data: [{ x: rg.span[0], y: rg.top }, { x: rg.span[1], y: rg.top }],
        borderColor: "rgba(0,0,0,0)",
        borderWidth: 0,
        pointRadius: 0,
        fill: "start",
        backgroundColor: rg.fill,
        tension: 0,
        order: 1,
        clip: 0,
      });
    });
    const addPoints = (ps: { x: number; y: number }[], radius: number) => {
      datasets.push({
        type: "scatter",
        data: ps,
        pointRadius: radius,
        pointBorderWidth: 0,
        backgroundColor: POINT_COLOR,
        borderColor: POINT_COLOR,
        order: 2,
        clip: 0,
      });
    };
    panel.rows.forEach((r) => addPoints(r.values.map((v, i) => ({ x: r.start + i * r.step, y: v })), ROW_RADIUS));
    panel.pairs.forEach((p) => addPoints(p.map(([x, y]) => ({ x, y })), PAIR_RADIUS));

    const gridCfg = { color: GRID_COLOR, lineWidth: 1, drawTicks: false, z: 1 };
    const borderCfg = { display: false, dash: [2, 2] };

    const chart = new Chart(ref.current, {
      type: "scatter",
      data: { datasets },
      options: {
        animation: false,
        responsive: false,
        devicePixelRatio: 1,
        events: [],
        layout: { padding: { left: 0, top: 0, right: 20, bottom: 4 } },
        plugins: {
          legend: { display: false },
          tooltip: { enabled: false },
          title: {
            display: true,
            text: CHANNEL,
            fullSize: false,
            color: "#000",
            font: { size: 12, weight: "normal", lineHeight: "14px" },
            padding: { top: 4, bottom: 3 },
          },
          panelDecor: { items: panel.regions, side: panel.legendSide },
        } as any,
        scales: {
          x: {
            type: "linear",
            min: 0,
            max: 3600,
            afterBuildTicks: (s: any) => { s.ticks = X_TICKS.map((v) => ({ value: v })); },
            afterFit: (s: any) => { s.height = 36; },
            grid: gridCfg,
            border: borderCfg,
            ticks: { padding: 1, autoSkip: false, maxRotation: 0, color: "#000", font: { size: 12 }, callback: (v: any) => String(v) },
            title: { display: true, text: "Seconds from GPS time " + panel.gps, color: "#000", font: { size: 12 }, padding: { top: 0, bottom: 3 } },
          },
          y: {
            type: "linear",
            min: 1,
            max: 2,
            afterBuildTicks: (s: any) => { s.ticks = Y_TICKS.map((v) => ({ value: v })); },
            afterFit: (s: any) => { s.width = 51; },
            grid: gridCfg,
            border: borderCfg,
            ticks: { padding: 4, color: "#000", font: { size: 12 }, callback: (v: any) => Number(v).toFixed(1) },
            title: { display: true, text: Y_LABEL, color: "#000", font: { size: 12 }, padding: { top: 9, bottom: 0 } },
          },
        } as any,
      } as any,
      plugins: [decorPlugin as any],
    });
    return () => chart.destroy();
  }, [panel]);

  return (
    <canvas
      ref={ref}
      width={CANVAS_W}
      height={CANVAS_H}
      style={{ position: "absolute", left: panel.left, top: panel.top, width: CANVAS_W, height: CANVAS_H }}
    />
  );
}

export default function App() {
  return (
    <div style={{ position: "absolute", left: 0, top: 0, width: 995, height: 744, overflow: "hidden", background: "#fff" }}>
      {PANELS.map((p, i) => (
        <PanelChart key={i} panel={p} />
      ))}
    </div>
  );
}
